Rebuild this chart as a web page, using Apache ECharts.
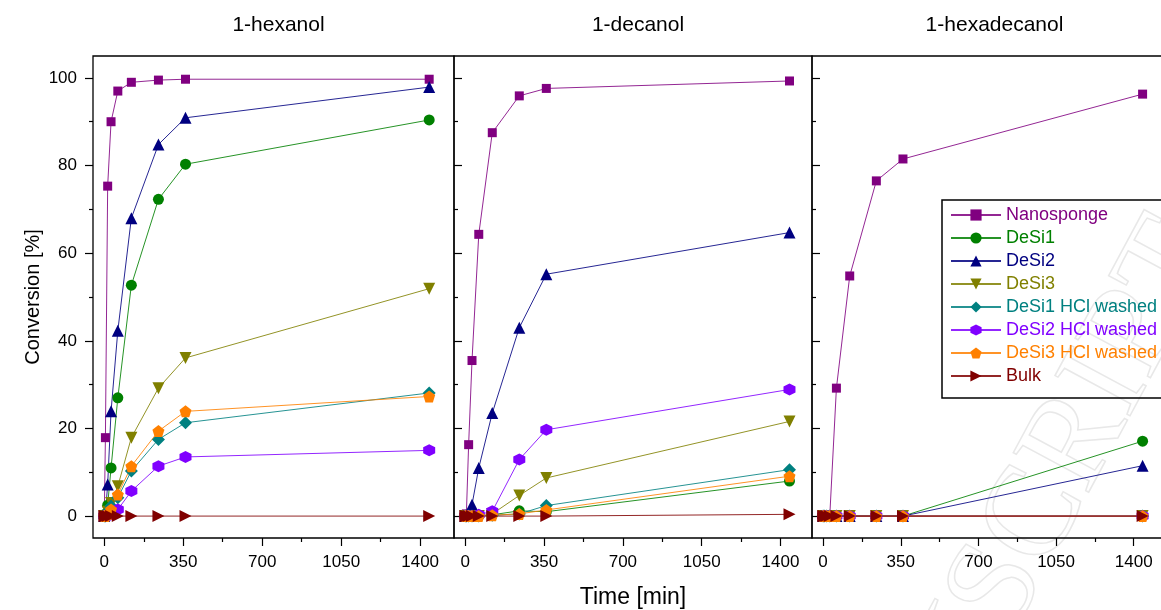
<!DOCTYPE html>
<html>
<head>
<meta charset="utf-8">
<script src="https://cdn.jsdelivr.net/npm/echarts@6/dist/echarts.min.js"></script>
<style>
  html, body { margin: 0; padding: 0; background: #fff; }
  #chart { width: 1161px; height: 610px; }
</style>
</head>
<body>
<div id="chart"></div>
<script>
// sampling times [min], same for every panel
const times = [0, 5, 15, 30, 60, 120, 240, 360, 1440]
const panels = ['1-hexanol', '1-decanol', '1-hexadecanol']
const xTicks = [0, 350, 700, 1050, 1400]
const xMinor = [175, 525, 875, 1225]
const yTicks = [0, 20, 40, 60, 80, 100]
const yMinor = [10, 30, 50, 70, 90]

// conversion [%], one row per panel (hexanol, decanol, hexadecanol)
const nanosponge = [
  [0, 17.9, 75.3, 90, 97, 99, 99.5, 99.7, 99.7],
  [0, 0.5, 16.3, 35.5, 64.3, 87.5, 95.9, 97.6, 99.3],
  [0, 0, 0, 0, 29.2, 54.8, 76.5, 81.5, 96.3],
]
const desi1 = [
  [0, 0.5, 2.5, 11, 27, 52.7, 72.3, 80.3, 90.4],
  [0, 0, 0, 0, 0, 0.3, 1.2, 1.0, 8],
  [0, 0, 0, 0, 0, 0, 0, 0, 17.1],
]
const desi2 = [
  [0, 0.5, 7.2, 23.9, 42.3, 68, 84.8, 90.9, 97.9],
  [0, 0, 0.5, 2.6, 11, 23.5, 43, 55.2, 64.7],
  [0, 0, 0, 0, 0, 0, 0, 0, 11.5],
]
const desi3 = [
  [0, 0, 1, 3, 6.8, 17.9, 29.2, 36.1, 51.9],
  [0, 0, 0, 0, 0, 0.5, 4.7, 8.7, 21.6],
  [0, 0, 0, 0, 0, 0, 0, 0, 0],
]
const desi1Hcl = [
  [0, 0, 1, 2.3, 4.2, 10.3, 17.5, 21.3, 28.1],
  [0, 0, 0, 0, 0, 0.2, 0.5, 2.4, 10.6],
  [0, 0, 0, 0, 0, 0, 0, 0, 0],
]
const desi2Hcl = [
  [0, 0, 0, 0.5, 1.5, 5.7, 11.4, 13.5, 15],
  [0, 0, 0, 0, 0.3, 1.1, 12.9, 19.7, 28.9],
  [0, 0, 0, 0, 0, 0, 0, 0, 0],
]
const desi3Hcl = [
  [0, 0, 0.5, 1.5, 4.9, 11.4, 19.4, 23.9, 27.3],
  [0, 0, 0, 0, 0, 0.2, 0.5, 1.4, 9.1],
  [0, 0, 0, 0, 0, 0, 0, 0, 0],
]
const bulk = [
  [0, 0, 0, 0, 0, 0, 0, 0, 0],
  [0, 0, 0, 0, 0, 0, 0, 0, 0.4],
  [0, 0, 0, 0, 0, 0, 0, 0, 0],
]

const hexagon = 'path://M0,-10L8.66,-5L8.66,5L0,10L-8.66,5L-8.66,-5Z'
const pentagon = 'path://M0,-10L9.51,-3.09L5.88,8.09L-5.88,8.09L-9.51,-3.09Z'

const seriesDefs = [
  { name: 'Nanosponge', values: nanosponge, color: '#800080', symbol: 'rect', size: 9 },
  { name: 'DeSi1', values: desi1, color: '#008000', symbol: 'circle', size: 11 },
  { name: 'DeSi2', values: desi2, color: '#000080', symbol: 'triangle', size: 12 },
  { name: 'DeSi3', values: desi3, color: '#808000', symbol: 'triangle', size: 12, rotate: 180 },
  { name: 'DeSi1 HCl washed', values: desi1Hcl, color: '#008080', symbol: 'diamond', size: 13 },
  { name: 'DeSi2 HCl washed', values: desi2Hcl, color: '#8000ff', symbol: hexagon, size: 12 },
  { name: 'DeSi3 HCl washed', values: desi3Hcl, color: '#ff8000', symbol: pentagon, size: 12 },
  { name: 'Bulk', values: bulk, color: '#800000', symbol: 'triangle', size: 12, rotate: -90 },
]

const font = 'Liberation Sans, Arial, sans-serif'
const grids = [
  { left: 93, top: 56, width: 361, height: 482 },
  { left: 454, top: 56, width: 358, height: 482 },
  { left: 812, top: 56, width: 355, height: 482 },
]
const xMax = [1550, 1540, 1550]
const panelCenters = [273.5, 633, 989.5]
const noComma = v => String(v)

const chart = echarts.init(document.getElementById('chart'))

const xMain = grids.map((g, i) => ({
  type: 'value', gridIndex: i, position: 'bottom', min: -50, max: xMax[i],
  name: i === 1 ? 'Time [min]' : '',
  nameLocation: 'middle', nameGap: 48,
  nameTextStyle: { color: '#000', fontSize: 23, fontFamily: font },
  axisLine: { show: false, onZero: false },
  axisTick: { show: true, inside: false, length: 8, customValues: xTicks, lineStyle: { color: '#000', width: 1.2 } },
  axisLabel: { show: true, customValues: xTicks, formatter: noComma, color: '#000', fontSize: 17, fontFamily: font, margin: 16 },
  splitLine: { show: false },
}))
const xMinorAxes = grids.map((g, i) => ({
  type: 'value', gridIndex: i, position: 'bottom', min: -50, max: xMax[i],
  axisLine: { show: false, onZero: false },
  axisTick: { show: true, inside: false, length: 4, customValues: xMinor, lineStyle: { color: '#000', width: 1.2 } },
  axisLabel: { show: false },
  splitLine: { show: false },
}))
const yMain = grids.map((g, i) => ({
  type: 'value', gridIndex: i, position: 'left', min: -5, max: 105,
  name: i === 0 ? 'Conversion [%]' : '',
  nameLocation: 'middle', nameGap: 50,
  nameTextStyle: { color: '#000', fontSize: 20, fontFamily: font },
  axisLine: { show: false, onZero: false },
  axisTick: { show: true, inside: i > 0, length: 8, customValues: yTicks, lineStyle: { color: '#000', width: 1.2 } },
  axisLabel: { show: i === 0, customValues: yTicks, color: '#000', fontSize: 17, fontFamily: font, margin: 16 },
  splitLine: { show: false },
}))
const yMinorAxes = grids.map((g, i) => ({
  type: 'value', gridIndex: i, position: 'left', min: -5, max: 105,
  axisLine: { show: false, onZero: false },
  axisTick: { show: true, inside: i > 0, length: 4, customValues: yMinor, lineStyle: { color: '#000', width: 1.2 } },
  axisLabel: { show: false },
  splitLine: { show: false },
}))

const series = []
panels.forEach((p, pi) => {
  seriesDefs.forEach((s) => {
    series.push({
      name: s.name,
      type: 'line',
      xAxisIndex: pi,
      yAxisIndex: pi,
      data: times.map((t, k) => [t, s.values[pi][k]]),
      symbol: s.symbol,
      symbolSize: s.size,
      symbolRotate: s.rotate || 0,
      showAllSymbol: true,
      itemStyle: { color: s.color, opacity: 1 },
      lineStyle: { color: s.color, width: 1, opacity: 0.85 },
      emphasis: { disabled: true },
      animation: false,
    })
  })
})

const option = {
  backgroundColor: '#fff',
  animation: false,
  title: panels.map((p, i) => ({
    text: p,
    left: panelCenters[i],
    top: 10,
    textAlign: 'center',
    textStyle: { color: '#000', fontSize: 21, fontWeight: 'normal', fontFamily: font },
  })),
  grid: grids.map(g => Object.assign({
    show: true, borderColor: '#000', borderWidth: 1.3, backgroundColor: 'transparent',
    containLabel: false, outerBoundsMode: 'none',
  }, g)),
  xAxis: xMain.concat(xMinorAxes),
  yAxis: yMain.concat(yMinorAxes),
  legend: {
    orient: 'vertical',
    left: 950,
    top: 206,
    itemWidth: 50,
    itemHeight: 14,
    itemGap: 5,
    padding: 0,
    selectedMode: false,
    textStyle: { fontSize: 18, fontFamily: font },
    data: seriesDefs.map(s => ({ name: s.name, textStyle: { color: s.color } })),
  },
  graphic: [
    {
      type: 'text',
      x: 1190, y: 232,
      rotation: 1.077,
      silent: true,
      z: -1,
      style: {
        text: 'ACCEPTED MANUSCRIPT',
        font: '130px Liberation Serif, serif',
        fill: 'none',
        stroke: '#e8e8e8',
        lineWidth: 1.5,
        align: 'right',
        verticalAlign: 'middle',
      },
    },
    {
      type: 'rect',
      shape: { x: 942, y: 200, width: 240, height: 198 },
      style: { fill: 'none', stroke: '#000', lineWidth: 1.5 },
      z: 10,
    },
  ],
  series,
}
chart.setOption(option)
</script>
</body>
</html>
